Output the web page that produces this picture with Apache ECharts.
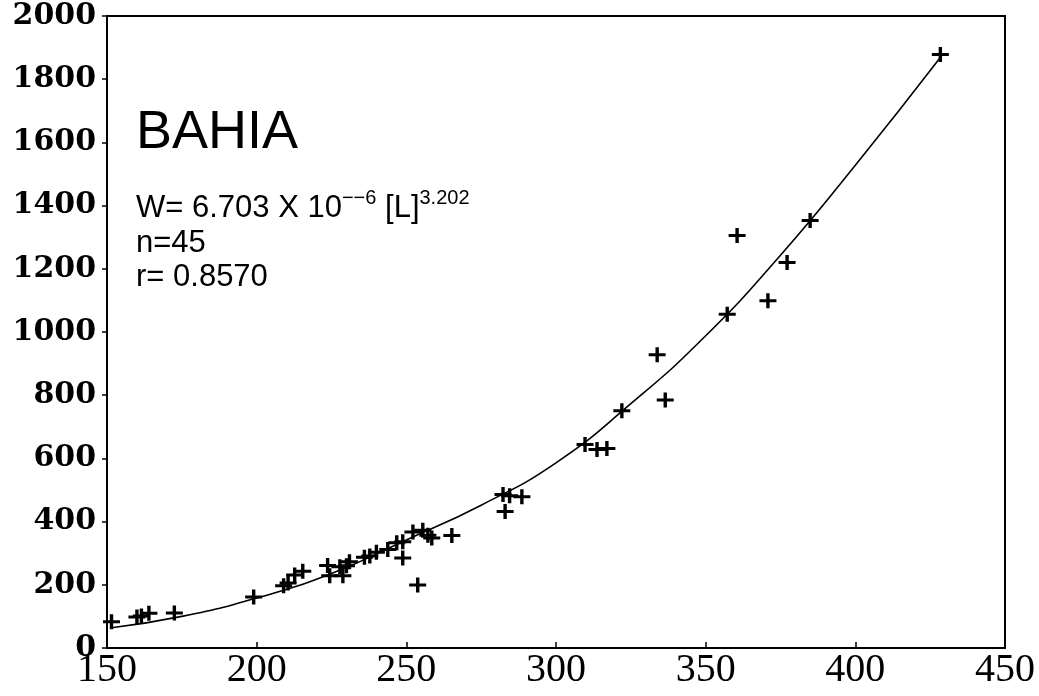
<!DOCTYPE html>
<html>
<head>
<meta charset="utf-8">
<script src="https://cdn.jsdelivr.net/npm/echarts@6/dist/echarts.min.js"></script>
<style>html,body{margin:0;padding:0;background:#fff;}#c{width:1039px;height:696px;}</style>
</head>
<body>
<div id="c"></div>
<script>
// Observed fish: total length L (mm) and weight W (g)
const lengthL = [151.5,160,161.5,164,172.5,199,209,210.5,212.7,215.4,223.7,224.4,227.8,228.8,230,231,236,237.8,240,243.8,246.8,248.8,248.8,252.2,255.5,257.2,258.5,265.2,253.8,283,282.3,284.5,288.6,309.7,313.7,317,322,333.8,336.5,357.2,360.5,370.8,377.2,384.9,428.4];
const weightW = [83,98,101,110,111,161,197,206,231,243,261,229,257,229,260,273,287,291,303,312,333,336,285,367,373,357,348,356,199,432,486,482,479,644,628,631,751,928,785,1056,1305,1099,1220,1353,1878];

// Fitted curve
const curveL = [151.5,175,200,225,250,275,300,325,350,375,400,428.4];
const curveW = [64,100,158,236,342,452,586,773,988,1243,1528,1869];

const xTicks = [150,200,250,300,350,400,450];
const yTicks = [0,200,400,600,800,1000,1200,1400,1600,1800,2000];

const title = 'BAHIA';
const eqCoef = 'W= 6.703 X 10';
const eqExp = '\u2212\u22126';
const eqVar = ' [L]';
const eqPow = '3.202';
const nText = 'n=45';
const rText = 'r= 0.8570';

const scatterData = lengthL.map((l, i) => [l, weightW[i]]);
const curveData = curveL.map((l, i) => [l, curveW[i]]);

const chart = echarts.init(document.getElementById('c'), null, {renderer: 'canvas'});
chart.setOption({
  animation: false,
  backgroundColor: '#fff',
  grid: {left: 107, right: 34, top: 16, bottom: 48, show: true, borderColor: '#000', borderWidth: 2, backgroundColor: 'transparent'},
  xAxis: {
    type: 'value', min: xTicks[0], max: xTicks[xTicks.length - 1], interval: 50,
    axisLine: {show: true, lineStyle: {color: '#000', width: 2}},
    axisTick: {show: true, inside: true, length: 6, lineStyle: {color: '#000', width: 1.5}},
    axisLabel: {color: '#000', fontFamily: 'Liberation Serif', fontSize: 40, margin: 2, showMinLabel: true, showMaxLabel: true,
      formatter: v => String(v)},
    splitLine: {show: false}
  },
  yAxis: {
    type: 'value', min: yTicks[0], max: yTicks[yTicks.length - 1], interval: 200,
    axisLine: {show: true, lineStyle: {color: '#000', width: 2}},
    axisTick: {show: true, length: 5, lineStyle: {color: '#000', width: 1.5}},
    axisLabel: {color: '#000', fontFamily: 'DejaVu Serif', fontWeight: 'bold', fontSize: 30, margin: 11,
      formatter: v => String(v)},
    splitLine: {show: false}
  },
  graphic: [
    {type: 'text', left: 136, top: 106, style: {text: title, font: '54px "Liberation Sans"', fill: '#000'}},
    {type: 'text', left: 136, top: 188, style: {
      text: '{a|' + eqCoef + '}{s|' + eqExp + '}{a|' + eqVar + '}{s|' + eqPow + '}',
      rich: {
        a: {fontFamily: 'Liberation Sans', fontSize: 31, fill: '#000', verticalAlign: 'bottom', lineHeight: 36},
        s: {fontFamily: 'Liberation Sans', fontSize: 20, fill: '#000', verticalAlign: 'top', lineHeight: 36, padding: [0,0,14,0]}
      }
    }},
    {type: 'text', left: 136, top: 228, style: {text: nText, font: '31px "Liberation Sans"', fill: '#000'}},
    {type: 'text', left: 136, top: 262, style: {text: rText, font: '31px "Liberation Sans"', fill: '#000'}}
  ],
  series: [
    {
      type: 'line', data: curveData, smooth: true, showSymbol: false, symbol: 'none',
      lineStyle: {color: '#000', width: 1.6}, z: 2
    },
    {
      type: 'scatter', data: scatterData,
      symbol: 'path://M4,0 H6 V4 H10 V6 H6 V10 H4 V6 H0 V4 H4 Z',
      symbolSize: [17, 15],
      itemStyle: {color: '#000', opacity: 1}, z: 3
    }
  ]
});
</script>
</body>
</html>
